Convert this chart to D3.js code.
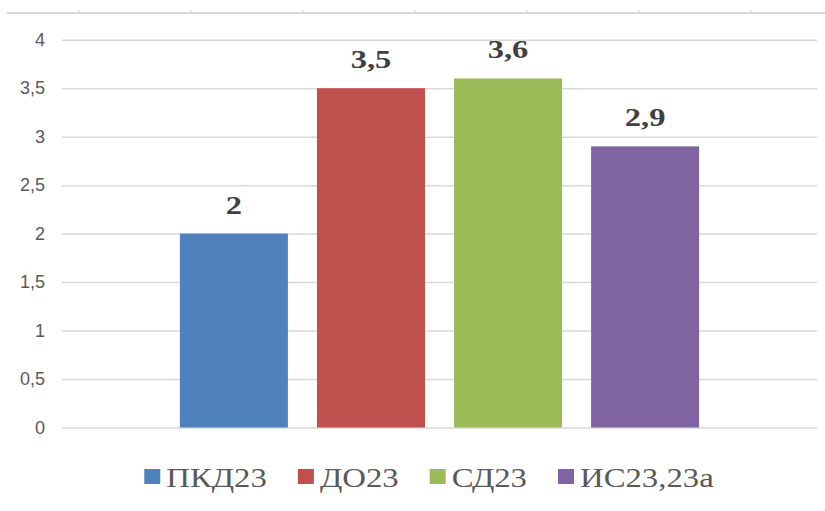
<!DOCTYPE html>
<html>
<head>
<meta charset="utf-8">
<script src="https://cdn.jsdelivr.net/npm/d3@7"></script>
<style>
  html, body { margin: 0; padding: 0; background: #ffffff; }
  svg { display: block; }
</style>
</head>
<body>
<svg id="chart" width="825" height="511"></svg>
<script>
// ---- data ----
const seriesNames = ["ПКД23", "ДО23", "СД23", "ИС23,23а"];
const seriesValues = [2, 3.5, 3.6, 2.9];
const seriesColors = ["#4f81bd", "#c0504d", "#9bbb59", "#8064a2"];
const yTicks = [0, 0.5, 1, 1.5, 2, 2.5, 3, 3.5, 4];
const rulerMarks = [0, 1, 2, 3, 4, 5, 6];

// ---- layout ----
const W = 825, H = 511;
const plot = { left: 62, right: 817, top: 39.7, bottom: 427.5 };
const SERIF = '"Liberation Serif", "Times New Roman", serif';
const SANS = '"Liberation Sans", Arial, sans-serif';
const svg = d3.select("#chart");

const ru = d3.formatLocale({ decimal: ",", thousands: " ", grouping: [3], currency: ["", ""] });
const fmt = v => ru.format("~g")(v);

// decorative top border line with small ticks
const rulerX = d3.scaleLinear().domain([0, 1]).range([79, 191]);
svg.append("line")
  .attr("x1", 7).attr("x2", W).attr("y1", 13).attr("y2", 13)
  .attr("stroke", "#d9d9d9").attr("stroke-width", 2);
svg.append("g").selectAll("line").data(rulerMarks).join("line")
  .attr("x1", d => rulerX(d)).attr("x2", d => rulerX(d))
  .attr("y1", 10.5).attr("y2", 13)
  .attr("stroke", "#d0d0d0").attr("stroke-width", 1);

// scales
const y = d3.scaleLinear().domain([0, 4]).range([plot.bottom, plot.top]);
const x = d3.scaleBand().domain(seriesNames)
  .range([plot.left, plot.right])
  .paddingInner(0.212).paddingOuter(0.86);

// gridlines + tick labels
const yAxis = d3.axisLeft(y).tickValues(yTicks)
  .tickSize(-(plot.right - plot.left)).tickFormat(fmt).tickPadding(17);
const gy = svg.append("g").attr("transform", `translate(${plot.left},0)`).call(yAxis);
gy.select(".domain").remove();
gy.attr("font-family", null).attr("font-size", null);
gy.selectAll(".tick line").attr("stroke", "#d9d9d9").attr("stroke-width", 1.5);
gy.selectAll(".tick text")
  .attr("fill", "#595959")
  .style("font-family", SANS)
  .style("font-size", "18px");

// bars
svg.append("g").selectAll("rect").data(seriesValues).join("rect")
  .attr("x", (d, i) => x(seriesNames[i]))
  .attr("width", x.bandwidth())
  .attr("y", d => y(d))
  .attr("height", d => y(0) - y(d))
  .attr("fill", (d, i) => seriesColors[i]);

// data labels (reference text is horizontally stretched)
const labelSX = 1.25;
svg.append("g").selectAll("text").data(seriesValues).join("text")
  .attr("transform", (d, i) =>
    `translate(${x(seriesNames[i]) + x.bandwidth() / 2},${y(d) - 20}) scale(${labelSX},1)`)
  .attr("text-anchor", "middle")
  .attr("fill", "#404040")
  .style("font-family", SERIF)
  .style("font-weight", "bold")
  .style("font-size", "26px")
  .text(d => fmt(d));

// legend
const legendSX = 1.17;
const legend = svg.append("g");
const sqW = 16, sqH = 15, gapSq = 6, gapItem = 31;
const items = legend.selectAll("g").data(seriesNames).join("g");
items.append("rect")
  .attr("width", sqW).attr("height", sqH)
  .attr("y", -sqH / 2)
  .attr("fill", (d, i) => seriesColors[i]);
items.append("text")
  .attr("transform", `translate(${sqW + gapSq},10.5) scale(${legendSX},1)`)
  .attr("fill", "#595959")
  .style("font-family", SERIF)
  .style("font-size", "28px")
  .text(d => d);
const widths = [];
items.each(function () {
  widths.push(sqW + gapSq + this.querySelector("text").getComputedTextLength() * legendSX);
});
const total = d3.sum(widths) + gapItem * (widths.length - 1);
const start = 429 - total / 2;
items.attr("transform", (d, i) => {
  const tx = start + d3.sum(widths.slice(0, i)) + gapItem * i;
  return `translate(${tx},476.5)`;
});
</script>
</body>
</html>
